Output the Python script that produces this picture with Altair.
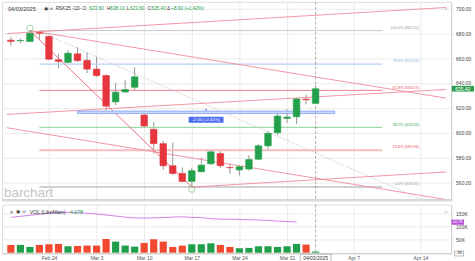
import altair as alt
import pandas as pd

# ---------------- data ----------------
day_index = list(range(33))  # trading days Feb 18 .. Apr 3, 2025
opens  = [674.5, 674.0, 673.4, 680.5, 677.5, 658.7, 656.6, 663.5, 658.2, 651.2, 646.0, 624.8, 632.8, 636.6, 614.2, 602.7, 591.2, 573.4, 567.2, 560.8, 568.6, 575.0, 583.2, 572.0, 570.0, 570.7, 578.7, 589.4, 600.0, 611.5, 612.8, 627.0, 623.6]
highs  = [677.0, 676.0, 682.2, 682.0, 678.0, 663.5, 666.2, 668.8, 664.6, 661.0, 647.0, 640.0, 642.2, 652.6, 615.5, 608.6, 593.4, 592.0, 572.0, 571.5, 580.0, 586.7, 586.2, 575.0, 574.0, 582.0, 590.7, 601.4, 615.2, 618.7, 628.0, 630.7, 638.1]
lows   = [670.0, 672.0, 673.0, 675.0, 658.5, 652.0, 656.0, 657.0, 648.0, 645.0, 618.0, 622.0, 632.0, 634.7, 604.5, 583.0, 570.0, 566.0, 560.0, 556.2, 568.0, 574.0, 571.5, 567.0, 565.5, 569.5, 578.0, 586.0, 598.0, 608.0, 607.0, 622.7, 623.6]
closes = [673.5, 674.2, 680.0, 680.0, 659.2, 657.4, 664.0, 658.0, 651.2, 646.0, 621.4, 632.6, 634.7, 645.0, 605.4, 591.2, 573.4, 567.2, 560.8, 569.4, 573.9, 584.6, 573.4, 571.8, 572.6, 578.4, 589.4, 599.5, 613.4, 612.6, 627.2, 626.5, 635.4]
volumes_k = [29.7, 29.7, 22.1, 29.7, 32.3, 33.5, 24.7, 25.9, 27.2, 27.2, 52.5, 42.4, 27.2, 23.4, 37.3, 51.3, 42.4, 22.1, 27.2, 32.3, 32.3, 36.1, 29.7, 22.1, 17.1, 18.4, 24.7, 24.7, 22.1, 24.7, 33.5, 31.0, 4.4]
vol_avg_k = [135, 139, 143, 147, 151, 153, 154, 153, 151, 148, 144, 140, 136, 133, 132, 133, 134, 136, 137, 135, 134, 130, 128, 128, 127, 126, 125, 123, 121, 119, 117]

tick_pos = [4, 9, 14, 19, 24, 29, 36, 43]
tick_labels = ["Feb 24", "Mar 3", "Mar 10", "Mar 17", "Mar 24", "Mar 31", "Apr 7", "Apr 14"]
price_ticks = [560, 580, 600, 620, 640, 660, 680, 700]
vol_ticks = [50000, 100000, 150000]
cursor_day = [32]
cursor_label = ["04/03/2025"]

fib_pct = ["100.0%", "78.6%", "61.8%", "38.2%", "23.6%", "0.0%"]
fib_price = [682.20, 655.24, 634.07, 604.33, 585.94, 556.20]
fib_line_col = ["#c9c9c9", "#b7cff3", "#ef7f8e", "#86d197", "#f6bcc2", "#d0d0d0"]
fib_text_col = ["#9a9a9a", "#8fb2ea", "#e6505f", "#3aa55a", "#e6505f", "#9a9a9a"]
fib_width = [1.0, 1.2, 1.0, 1.0, 2.0, 2.0]

# trend / channel lines: start day, start price, end day, end price
trend_t0 = [-0.41, 2, -0.41, -0.41, 19, 2]
trend_p0 = [679.8, 682.2, 614.7, 604.0, 556.2, 682.2]
trend_t1 = [45.71, 45.71, 45.71, 45.71, 45.71, 19]
trend_p1 = [700.8, 627.8, 634.8, 546.2, 568.4, 556.2]
trend_col = ["#f08a9a", "#f08a9a", "#f08a9a", "#f08a9a", "#f08a9a", "#ee6070"]
dotted_t = [3, 45.71]
dotted_p = [681.4, 537.5]

measure_t = [7, 34]
measure_p = [617.4, 615.4]
measure_text = "-2.00 (-0.32%)"
measure_mid_t = 20.5

# ---------------- scales & axes ----------------
X_DOM = [-0.41, 45.71]
P_DOM = [545.36, 705.36]
V_DOM = [-2000, 184000]
xsc = alt.Scale(domain=X_DOM, nice=False, zero=False)
psc = alt.Scale(domain=P_DOM, nice=False, zero=False)
vsc = alt.Scale(domain=V_DOM, nice=False, zero=False)

label_expr = " : ".join(f"datum.value == {p} ? '{l}'" for p, l in zip(tick_pos, tick_labels)) + " : ''"

AX_X_TOP = alt.Axis(values=tick_pos, labels=False, ticks=False, domain=False, grid=True,
                    gridColor="#ebebeb", title=None)
AX_P = alt.Axis(orient="right", values=price_ticks, format=".2f", labelFontSize=5,
                labelColor="#444", ticks=False, labelPadding=4.5, domain=True,
                domainColor="#d0d0d0", grid=True, gridColor="#ebebeb", title=None,
                labelOverlap=False, labelFlush=False)
AX_X_BOT = alt.Axis(values=tick_pos, labelExpr=label_expr, labelFontSize=5, labelColor="#555",
                    ticks=False, labelPadding=2.2, domain=True, domainColor="#cccccc", grid=True,
                    gridColor="#ebebeb", title=None, labelOverlap=False, labelFlush=False)
AX_V = alt.Axis(orient="right", values=vol_ticks, labelExpr="format(datum.value/1000,'d')+'K'",
                labelFontSize=5, labelColor="#444", ticks=False, labelPadding=4.5, domain=True,
                domainColor="#d0d0d0", grid=True, gridColor="#ebebeb", title=None,
                labelOverlap=False, labelFlush=False)

GREEN, RED = "#22a04b", "#e5353d"
VGREEN, VRED = "#1f9f49", "#f1482f"
TXT = "#333333"
one = pd.DataFrame({"k": [0]})


def XQ(f, ax):
    return alt.X(f, type="quantitative", scale=xsc, axis=ax)


def YQ(f, sc, ax):
    return alt.Y(f, type="quantitative", scale=sc, axis=ax)


def XD(v, ax):
    return alt.XDatum(v, scale=xsc, axis=ax)


def YD(v, sc, ax):
    return alt.YDatum(v, scale=sc, axis=ax)


candles = pd.DataFrame({"t": day_index, "o": opens, "h": highs, "l": lows, "c": closes,
                        "v": [k * 1000 for k in volumes_k]})
candles["col"] = [GREEN if c >= o else RED for o, c in zip(opens, closes)]
candles["vcol"] = [VGREEN if c >= o else VRED for o, c in zip(opens, closes)]
avg_df = pd.DataFrame({"t": day_index[:len(vol_avg_k)], "a": [k * 1000 for k in vol_avg_k]})

fib_df = pd.DataFrame({"price": fib_price, "lc": fib_line_col, "tc": fib_text_col, "w": fib_width,
                       "label": [f"{p} ({v:.2f})" for p, v in zip(fib_pct, fib_price)]})
trend_df = pd.DataFrame({"t0": trend_t0, "p0": trend_p0, "t1": trend_t1, "p1": trend_p1, "col": trend_col})
dotted_df = pd.DataFrame({"t0": [dotted_t[0]], "p0": [dotted_p[0]], "t1": [dotted_t[1]], "p1": [dotted_p[1]]})
cursor_df = pd.DataFrame({"t": cursor_day, "lab": cursor_label})

# ---------------- price panel ----------------
XT, XTD = (lambda f: XQ(f, AX_X_TOP)), (lambda v: XD(v, AX_X_TOP))
PY, PYD = (lambda f: YQ(f, psc, AX_P)), (lambda v: YD(v, psc, AX_P))

wicks = alt.Chart(candles).mark_rule(color="#8a8a8a", strokeWidth=0.9).encode(
    x=XT("t"), y=PY("l"), y2="h:Q",
)
bodies = alt.Chart(candles).mark_bar(width=6.6, strokeWidth=0.6).encode(
    x=XT("t"), y=PY("o"), y2="c:Q",
    color=alt.Color("col:N", scale=None),
    stroke=alt.Stroke("col:N", scale=None),
)
fib_rules = alt.Chart(fib_df).mark_rule().encode(
    x=XTD(3), x2=alt.X2Datum(39),
    y=PY("price"),
    color=alt.Color("lc:N", scale=None),
    strokeWidth=alt.StrokeWidth("w:Q", scale=None),
)
fib_labels = alt.Chart(fib_df).mark_text(align="right", baseline="bottom", dy=-0.8, fontSize=3.9).encode(
    x=XTD(42.85), y=PY("price"), text="label:N",
    color=alt.Color("tc:N", scale=None),
)
trends = alt.Chart(trend_df).mark_rule(clip=True, strokeWidth=0.9).encode(
    x=XT("t0"), x2="t1:Q", y=PY("p0"), y2="p1:Q",
    color=alt.Color("col:N", scale=None),
)
dotted = alt.Chart(dotted_df).mark_rule(clip=True, strokeWidth=0.8, color="#bdbdbd", strokeDash=[1.5, 1.5]).encode(
    x=XT("t0"), x2="t1:Q", y=PY("p0"), y2="p1:Q",
)
band = alt.Chart(one).mark_rect(fill="#c9d8fb", stroke="#7396f2", strokeWidth=0.7).encode(
    x=XTD(measure_t[0]), x2=alt.X2Datum(measure_t[1]),
    y=PYD(measure_p[0]), y2=alt.Y2Datum(measure_p[1]),
)
m_box = alt.Chart(one).mark_bar(width=35, color="#4b6cf0").encode(
    x=XTD(measure_mid_t), y=PYD(612.8), y2=alt.Y2Datum(608.0),
)
m_text = alt.Chart(one).mark_text(color="white", fontSize=4.4).encode(
    x=XTD(measure_mid_t), y=PYD(610.4), text=alt.value(measure_text),
)
m_tri = alt.Chart(one).mark_point(shape="triangle-down", filled=True, size=7, color="#4b6cf0").encode(
    x=XTD(measure_mid_t), y=PYD(measure_p[0] + 0.8),
)
ext_df = pd.DataFrame({"t": [2, 19], "p": [highs[2] + 1.8, lows[19] - 1.7]})
ext_circles = alt.Chart(ext_df).mark_point(shape="circle", filled=False, size=40, strokeWidth=0.8, color="#4fb86a").encode(
    x=XT("t"), y=PY("p"),
)
cursor_top = alt.Chart(cursor_df).mark_rule(color="#9a9a9a", strokeWidth=0.8, strokeDash=[3, 2]).encode(
    x=XT("t")
)
separator = alt.Chart(one).mark_rule(color="#c8c8c8", strokeWidth=1.2).encode(
    x=alt.value(0), x2=alt.value(452), y=alt.value(199.3)
)
last_close = closes[-1]
p_badge = alt.Chart(one).mark_rect(color="#2e9d4d").encode(
    x=alt.value(452.7), x2=alt.value(475),
    y=PYD(last_close + 2.3), y2=alt.Y2Datum(last_close - 2.3),
)
p_badge_t = alt.Chart(one).mark_text(color="white", fontSize=5, align="left").encode(
    x=alt.value(456), y=PYD(last_close), text=alt.value(f"{last_close:.2f}"),
)
watermark = alt.Chart(one).mark_text(text="barchart", fontSize=13.5, color="#c4c4c4", align="left",
                                      baseline="middle").encode(x=alt.value(2), y=alt.value(192.5))

HF = 4.8
header_parts = [
    ("04/03/2025", 6, TXT, 5.6), ("◉", 42, TXT, 4.6), ("ılı", 48, TXT, 4.4),
    ("RSK25 -1D- O", 54, TXT, HF), (f"{opens[-1]:.2f}", 87.7, GREEN, HF),
    ("H", 105.8, TXT, HF), (f"{highs[-1]:.2f}", 109, GREEN, HF),
    ("L", 125.5, TXT, HF), (f"{lows[-1]:.2f}", 128.8, GREEN, HF),
    ("C", 146.5, TXT, HF), (f"{closes[-1]:.2f}", 150.2, GREEN, HF),
    ("Δ", 166, TXT, HF), (f"+{closes[-1]-closes[-2]:.2f} (+{(closes[-1]/closes[-2]-1)*100:.2f}%)", 170.2, GREEN, HF),
]
header = [alt.Chart(one).mark_text(text=s, color=c, fontSize=fs, align="left", baseline="middle").encode(
    x=alt.value(px), y=alt.value(7.3)) for s, px, c, fs in header_parts]
chev_top = alt.Chart(one).mark_text(text="^", color="#999", fontSize=5).encode(x=alt.value(447), y=alt.value(8))

top = alt.layer(
    wicks, fib_rules, fib_labels, dotted, trends, band, cursor_top, separator, bodies, ext_circles,
    m_box, m_text, m_tri, p_badge, p_badge_t, watermark, chev_top, *header
).properties(width=452, height=200)

# ---------------- volume panel ----------------
XB = lambda f: XQ(f, AX_X_BOT)
VY, VYD = (lambda f: YQ(f, vsc, AX_V)), (lambda v: YD(v, vsc, AX_V))

vbars = alt.Chart(candles).mark_bar(width=7.2).encode(
    x=XB("t"), y=VY("v"),
    color=alt.Color("vcol:N", scale=None),
)
vavg = alt.Chart(avg_df).mark_line(color="#c973df", strokeWidth=0.9).encode(
    x=XB("t"), y=VY("a"),
)
cursor_bot = alt.Chart(cursor_df).mark_rule(color="#9a9a9a", strokeWidth=0.8, strokeDash=[3, 2]).encode(
    x=XB("t")
)
date_box = alt.Chart(cursor_df).mark_bar(width=31, fill="white", stroke="#9a9a9a", strokeWidth=0.7).encode(
    x=XB("t"), y=alt.value(50.0), y2=alt.value(57.8),
)
date_txt = alt.Chart(cursor_df).mark_text(fontSize=5, color=TXT, baseline="middle").encode(
    x=XB("t"), y=alt.value(53.9), text="lab:N",
)
avg_last = vol_avg_k[-1] * 1000
v_badge = alt.Chart(one).mark_rect(color="#b44fd6").encode(
    x=alt.value(452.4), x2=alt.value(465),
    y=VYD(avg_last + 10200), y2=alt.Y2Datum(avg_last - 10200),
)
v_badge_t = alt.Chart(one).mark_text(color="white", fontSize=4.6, align="left").encode(
    x=alt.value(453.5), y=VYD(avg_last), text=alt.value(f"{vol_avg_k[-1]}K"),
)
cur_badge = alt.Chart(one).mark_rect(fill="white", stroke="#888", strokeWidth=0.6).encode(
    x=alt.value(455.5), x2=alt.value(464.5), y=VYD(6500), y2=alt.Y2Datum(-12500),
)
cur_badge_t = alt.Chart(one).mark_text(color=TXT, fontSize=4.4).encode(
    x=alt.value(460), y=VYD(-3000), text=alt.value("-3K"),
)
vol_parts = [("×", 8, TXT, 5.2), ("◉", 14.5, TXT, 4.6), ("ılı", 20.5, TXT, 4.4),
             ("VOL (LikeMain)", 28, TXT, 5.2), ("4.078", 68.5, GREEN, 5.2)]
vol_header = [alt.Chart(one).mark_text(text=s, color=c, fontSize=fs, align="left", baseline="middle").encode(
    x=alt.value(px), y=alt.value(8)) for s, px, c, fs in vol_parts]
chev_bot = alt.Chart(one).mark_text(text="^", color="#999", fontSize=5).encode(x=alt.value(447), y=alt.value(9))

bottom = alt.layer(
    vbars, vavg, cursor_bot, date_box, date_txt, v_badge, v_badge_t, cur_badge, cur_badge_t,
    chev_bot, *vol_header
).properties(width=452, height=49)

chart = alt.vconcat(top, bottom, spacing=2).properties(
    padding=0, background="white"
).configure_view(strokeWidth=0).configure(font="Liberation Sans")

chart.save("out.html", embed_options={"renderer": "svg", "actions": False})
